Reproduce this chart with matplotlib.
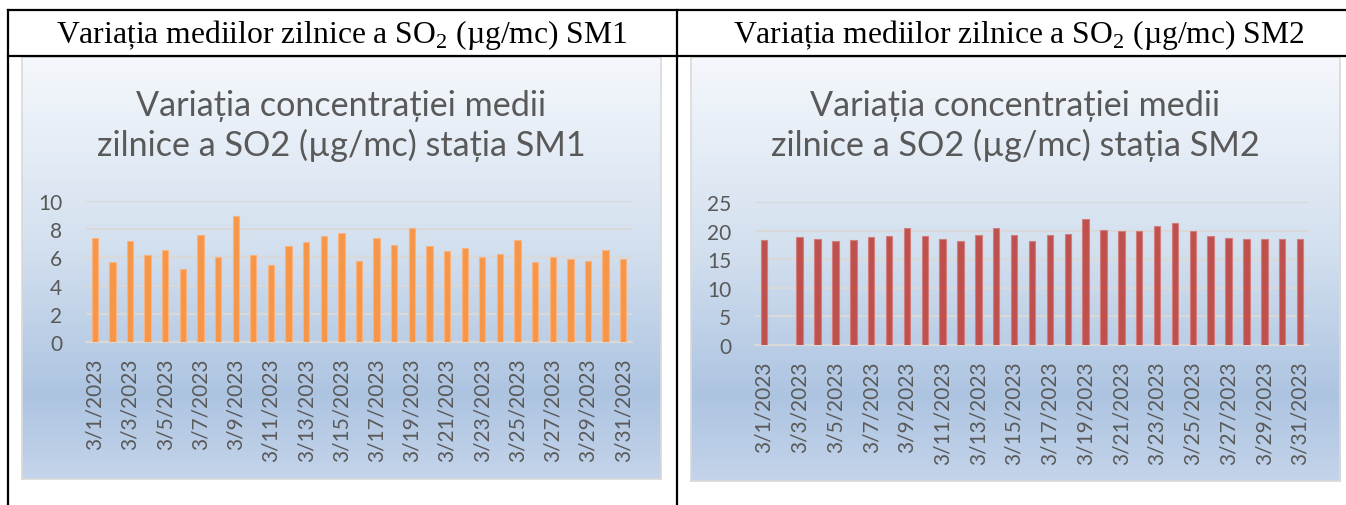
import matplotlib.pyplot as plt
import numpy as np
from matplotlib.colors import LinearSegmentedColormap

plt.rcParams['mathtext.fontset'] = 'custom'
plt.rcParams['mathtext.rm'] = 'Liberation Serif'

# data
days = [f"3/{d}/2023" for d in range(1, 32)]
sm1 = [7.35, 5.69, 7.13, 6.16, 6.49, 5.21, 7.58, 6.0, 8.93, 6.16, 5.45, 6.8, 7.11,
       7.49, 7.7, 5.76, 7.35, 6.87, 8.1, 6.78, 6.47, 6.66, 6.02, 6.23, 7.23, 5.64,
       6.0, 5.92, 5.76, 6.49, 5.92]
sm2 = [18.34, np.nan, 18.93, 18.52, 18.22, 18.4, 18.93, 19.1, 20.44, 19.1, 18.57,
       18.22, 19.16, 20.44, 19.16, 18.1, 19.16, 19.45, 21.96, 20.04, 19.86, 19.86,
       20.85, 21.38, 19.92, 18.98, 18.63, 18.57, 18.46, 18.57, 18.57]
headers = [r"Variația mediilor zilnice a SO$_2$ (µg/mc) SM1",
           r"Variația mediilor zilnice a SO$_2$ (µg/mc) SM2"]
titles = ["Variația concentrației medii\nzilnice a SO2 (µg/mc) stația SM1",
          "Variația concentrației medii\nzilnice a SO2 (µg/mc) stația SM2"]

W, H = 1346, 506
fig = plt.figure(figsize=(W / 100, H / 100), dpi=100)
fig.patch.set_facecolor('white')

grad = LinearSegmentedColormap.from_list(
    'g', [(0, '#f5f8fc'), (0.45, '#d3e0ef'), (0.8, '#adc4e1'), (1, '#c4d4ea')])


def rect(x0, y0, x1, y1):
    return [x0 / W, 1 - y1 / H, (x1 - x0) / W, (y1 - y0) / H]


charts = [
    dict(box=(22, 58, 661, 480), ax=(86, 202, 632, 343), vals=sm1, top=10,
         step=2, color='#f79646', edge='#f8b382', tcx=341),
    dict(box=(691, 58, 1340, 482), ax=(755, 203, 1309, 346), vals=sm2, top=25,
         step=5, color='#c0504d', edge='#d07f7d', tcx=1015),
]

for c in charts:
    bg = fig.add_axes(rect(*c['box']))
    bg.imshow(np.linspace(0, 1, 256).reshape(-1, 1), cmap=grad, aspect='auto',
              extent=[0, 1, 1, 0])
    bg.set_xticks([])
    bg.set_yticks([])
    for s in bg.spines.values():
        s.set_color('#d9d9d9')
        s.set_linewidth(1.2)

    ax = fig.add_axes(rect(*c['ax']))
    ax.patch.set_alpha(0)
    x = np.arange(len(days))
    ax.bar(x, c['vals'], width=0.36, color=c['color'], edgecolor=c['edge'],
           linewidth=0.8, zorder=3)
    ax.set_xlim(-0.5, len(days) - 0.5)
    ax.set_ylim(0, c['top'])
    ax.set_yticks(np.arange(0, c['top'] + 1, c['step']))
    ax.grid(axis='y', color='#d9d9d9', lw=1.6, zorder=0)
    ax.set_xticks(x[::2])
    ax.set_xticklabels(days[::2], rotation=90, family='Lato', fontsize=15,
                       color='#595959')
    for t in ax.get_yticklabels():
        t.set_family('Lato')
        t.set_fontsize(15)
        t.set_color('#595959')
    ax.tick_params(axis='y', length=0, pad=17)
    ax.tick_params(axis='x', length=0, pad=11)
    for s in ['top', 'right', 'left']:
        ax.spines[s].set_visible(False)
    ax.spines['bottom'].set_color('#d9d9d9')
    ax.spines['bottom'].set_linewidth(1.6)

# table lines, headers and chart titles on top
top = fig.add_axes([0, 0, 1, 1])
top.set_xlim(0, W)
top.set_ylim(H, 0)
top.axis('off')
top.plot([8, W], [11, 11], color='black', lw=1.6)
top.plot([8, W], [57, 57], color='black', lw=1.6)
top.plot([8, 8], [11, H], color='black', lw=1.6)
top.plot([677, 677], [11, H], color='black', lw=1.6)
for cx, h in zip([342, 1019], headers):
    top.text(cx, 35, h, ha='center', va='center', fontsize=22.8,
             family='Liberation Serif', color='black')
for c, title in zip(charts, titles):
    top.text(c['tcx'], 126, title, ha='center', va='center', fontsize=24.6,
             family='Lato', color='#595959', linespacing=1.25)

fig.savefig('out.png', dpi=100)
